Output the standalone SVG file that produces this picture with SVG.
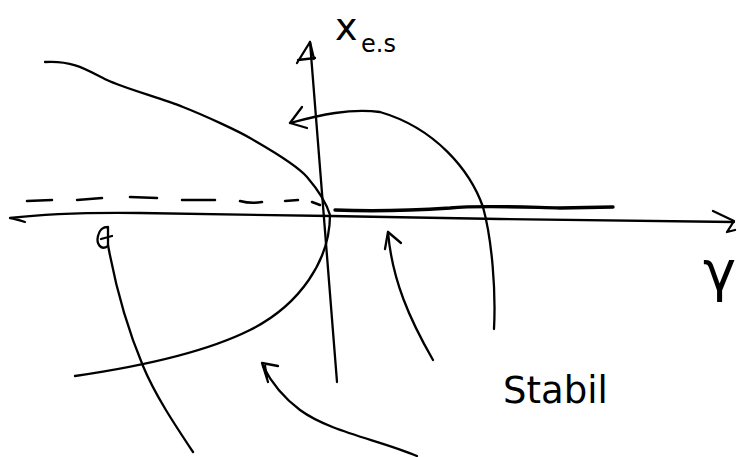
<svg xmlns="http://www.w3.org/2000/svg" width="737" height="457" viewBox="0 0 737 457">
<style>
.ln{fill:none;stroke:#000;stroke-width:2.3;stroke-linecap:round;stroke-linejoin:round}
.th{fill:none;stroke:#000;stroke-width:3.4;stroke-linecap:round}
.ds{fill:none;stroke:#000;stroke-width:2.5;stroke-linecap:round}
.tx{font-family:"DejaVu Sans","Liberation Sans",sans-serif;fill:#000}
</style>
<rect width="737" height="457" fill="#fff"/>
<g id="axes">
  <path class="ln" d="M25,222 Q16,219 10,218 Q60,212 140,213 L330,216 L500,219 L734,222"/>
  <path class="ln" stroke-width="3" d="M713,211 L734,221 L727,232 L735,230"/>
  <path class="ln" d="M337,382 L310,42"/>
  <path class="ln" stroke-width="3.4" d="M297,63 L310,42 L314,59 M298,60 L315,58"/>
</g>
<g id="branches">
  <path class="ln" d="M45,62 C75,60 90,72 107,80 S160,98 183,107 S240,132 250,138 S295,163 307,177 S327,205 330,215 C330,260 300,305 250,330 C200,355 130,368 75,376"/>
  <path class="th" d="M335,210 C380,212 420,210 450,208 C480,205 520,207 560,208 L613,207"/>
  <g class="ds">
    <path d="M27,201 L52,200"/>
    <path d="M77,200 L102,198"/>
    <path d="M130,197 L157,198"/>
    <path d="M182,200 L215,200"/>
    <path d="M240,201 Q251,204 262,202"/>
    <path d="M285,201 L298,200"/>
    <path d="M312,202 L320,205"/>
  </g>
</g>
<g id="connectors">
  <path class="ln" d="M494,329 C496,290 492,240 483,207 C470,170 435,128 380,112 C350,108 320,115 290,123"/>
  <path class="ln" stroke-width="3" d="M302,107 L290,123 L307,128"/>
  <path class="ln" d="M433,360 C410,320 392,280 388,232"/>
  <path class="ln" stroke-width="3" d="M385,249 L388,232 L401,243"/>
  <path class="ln" d="M417,456 C380,440 330,432 300,410 C280,395 270,380 263,366"/>
  <path class="ln" stroke-width="3.2" d="M278,366 L262,363 L268,382 M265,366 L267,378"/>
  <path class="ln" d="M193,452 C175,425 155,395 143,366 C130,335 118,300 108,245"/>
  <path class="ln" stroke-width="3.4" d="M108,246 C101,251 96,244 98,236 C100,228 104,227 108,227 L108,246 M101,239 L112,236"/>
</g>
<g id="labels">
  <text class="tx" x="335" y="40" font-size="38">x</text>
  <text class="tx" x="361" y="52" font-size="24">e.s</text>
  <text class="tx" x="703" y="290" font-size="56">γ</text>
  <text class="tx" x="503" y="403" font-size="37">Stabil</text>
</g>
</svg>
